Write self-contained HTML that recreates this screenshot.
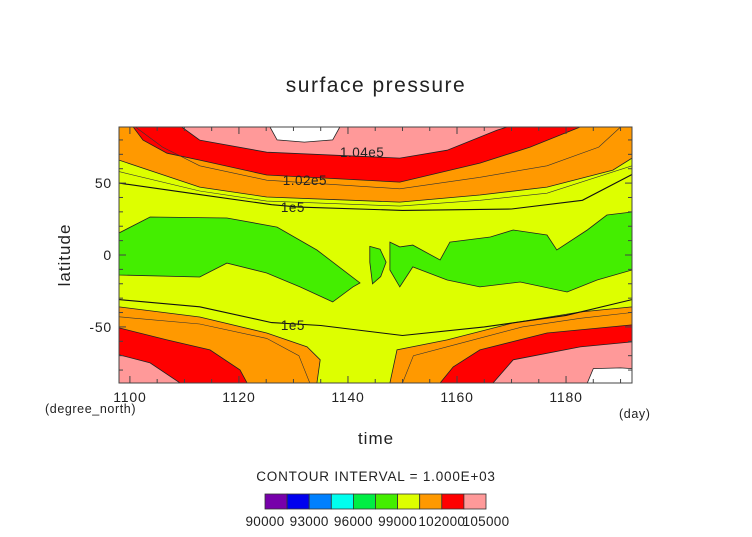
<!DOCTYPE html>
<html><head><meta charset="utf-8"><style>
body{margin:0;background:#fff;}
svg text{font-family:"Liberation Sans",sans-serif;fill:#222;}
</style></head><body>
<svg id="chart" width="752" height="532" xmlns="http://www.w3.org/2000/svg">
<defs><clipPath id="pc"><rect x="119" y="127" width="513" height="256"/></clipPath></defs>
<text x="376" y="92" font-size="21" text-anchor="middle" letter-spacing="1.5" font-weight="300">surface pressure</text>
<g id="plot" clip-path="url(#pc)"></g>
<rect x="119" y="127" width="513" height="256" fill="none" stroke="#444" stroke-width="1"/>
<g id="axes"></g>
<text x="0" y="0" font-size="17" text-anchor="middle" letter-spacing="1" transform="translate(70,255) rotate(-90)">latitude</text>
<text x="376" y="444" font-size="17" text-anchor="middle" letter-spacing="1">time</text>
<text x="45" y="413" font-size="12.5" letter-spacing="0.6">(degree_north)</text>
<text x="619" y="418" font-size="12.5" letter-spacing="0.6">(day)</text>
<text x="376" y="481" font-size="13.5" text-anchor="middle" letter-spacing="0.8">CONTOUR INTERVAL = 1.000E+03</text>
<g id="cbar"></g>
</svg>
<script>
const xTicks=[1100,1120,1140,1160,1180];
const yTicks=[50,0,-50];
const cbColors=["#7700aa","#0000ee","#0080ff","#00ffee","#00ee44","#44ee00","#ddff00","#ff9900","#ff0000","#ff9999"];
const cbLabels=["90000","93000","96000","99000","102000","105000"];
const T0=1098,T1=1192.1,LAT0=-89,LAT1=89;
const nOrange=[[1098,66],[1112.8,47.2],[1125.1,40.3],[1149.5,36.8],[1164.2,41.7],[1176.5,47.2],[1188.6,59],[1192.1,67.4]];
const nRed=[[1100.6,89],[1102.4,79.9],[1106.8,70.8],[1112.8,66],[1125.1,55.6],[1149.5,50.7],[1164.2,63.9],[1173.4,75],[1182.6,89]];
const nPink=[[1109.5,89],[1112.8,79.9],[1125.1,71.5],[1149.5,67.4],[1158.2,72.9],[1167.3,86.8],[1169.2,89]];
const nWhite=[[1125.7,89],[1127,80],[1132,78.5],[1137.2,80],[1138.5,89]];
const green1=[[1098,15.3],[1103.7,26.4],[1117.8,25.7],[1127,19.4],[1134.3,3.5],[1142.2,-19.4],[1140.9,-22.2],[1137.2,-32.6],[1131.2,-22.2],[1125.1,-12.5],[1117.8,-5.6],[1112.8,-15.3],[1098,-13.9]];
const green2=[[1144,6],[1145.9,4],[1147,-5],[1146,-15],[1144.5,-20],[1144,-5]];
const green3=[[1147.7,9],[1149.5,5.6],[1151.9,6.9],[1156.9,-3.5],[1158.7,9],[1166.1,12.5],[1170.3,17.4],[1176.5,13.9],[1178.3,3.5],[1183.9,17.4],[1187.5,27.8],[1192.1,29.9],[1192.1,-10.4],[1185.7,-17.4],[1180.2,-25.7],[1171.6,-18.8],[1164.2,-22.2],[1158.2,-17.4],[1151.9,-8.3],[1149.5,-22.2],[1147.7,-10.4]];
const sOrangeA=[[1098,-36.1],[1112.8,-43.1],[1125.1,-54.2],[1132.5,-63.9],[1134.9,-72.9],[1134.3,-89],[1098,-89]];
const sOrangeB=[[1147.7,-89],[1149,-66],[1158.2,-59],[1170.3,-47.2],[1182.6,-39.6],[1192.1,-36.1],[1192.1,-89]];
const sRedA=[[1098,-50.7],[1106.8,-59],[1114.7,-66],[1120.2,-79.9],[1121.5,-89],[1098,-89]];
const sRedB=[[1156.9,-89],[1159.3,-77.8],[1164.2,-66],[1176.5,-54.2],[1192.1,-48.6],[1192.1,-89]];
const sPinkA=[[1098,-69.4],[1103.7,-75],[1109.2,-89],[1098,-89]];
const sPinkB=[[1166.6,-89],[1170.3,-72.9],[1182.6,-63.9],[1192.1,-60.4],[1192.1,-89]];
const sWhite=[[1183.9,-89],[1185,-79],[1190,-78.5],[1192.1,-79],[1192.1,-89]];
const line1e5N=[[1098,50],[1112.8,42],[1126,35],[1131,33.3],[1150,31],[1170,32],[1183,38],[1192.1,56]];
const line1e5S=[[1098,-31],[1112.8,-36],[1126,-47],[1135,-49],[1150,-56],[1165,-50],[1180,-42],[1192.1,-31]];
const thinN1=[[1098,58],[1112.8,44.5],[1125.1,37.5],[1149.5,34],[1164.2,38],[1176.5,43],[1192.1,62]];
const thinN2=[[1101,89],[1106,75],[1112.8,62],[1125.1,52],[1149.5,46],[1164.2,54],[1176.5,62],[1186,75],[1190,89]];
const thinS1=[[1098,-43],[1112.8,-48],[1125.1,-58],[1131,-70],[1133,-89]];
const thinS2=[[1150,-89],[1152,-70],[1160,-62],[1172,-50],[1182.6,-44],[1192.1,-40]];
const NS="http://www.w3.org/2000/svg";
function sx(t){return 119+(t-T0)/(T1-T0)*513;}
function sy(l){return 127+(LAT1-l)/(LAT1-LAT0)*256;}
const plot=document.getElementById('plot');
function mk(tag,attrs,parent){const e=document.createElementNS(NS,tag);for(const k in attrs)e.setAttribute(k,attrs[k]);parent.appendChild(e);return e;}
function pts(a){return a.map(p=>sx(p[0]).toFixed(1)+','+sy(p[1]).toFixed(1)).join(' ');}
let bg=mk('rect',{x:119,y:127,width:513,height:256,fill:'#ddff00'},plot);


function northPoly(a,color,name){
  const full=a.concat([[T1,LAT1+5],[T0,LAT1+5]]);
  const p=mk('polygon',{points:pts(full),fill:color,stroke:'#222','stroke-width':0.8},plot);
  
  
}
function poly(a,color,name){
  const p=mk('polygon',{points:pts(a),fill:color,stroke:'#222','stroke-width':0.8},plot);
  
  
}
poly(green1,'#44ee00','green-region-1');
poly(green2,'#44ee00','green-region-2');
poly(green3,'#44ee00','green-region-3');
northPoly(nOrange,'#ff9900','north-orange-band');
northPoly(nRed,'#ff0000','north-red-band');
northPoly(nPink,'#ff9999','north-pink-band');
northPoly(nWhite,'#ffffff','north-white-band');
poly(sOrangeA,'#ff9900','south-orange-band-a');
poly(sOrangeB,'#ff9900','south-orange-band-b');
poly(sRedA,'#ff0000','south-red-band-a');
poly(sRedB,'#ff0000','south-red-band-b');
poly(sPinkA,'#ff9999','south-pink-band-a');
poly(sPinkB,'#ff9999','south-pink-band-b');
poly(sWhite,'#ffffff','south-white-band');
[thinN1,thinN2,thinS1,thinS2].forEach(a=>{
  const l=mk('polyline',{points:pts(a),fill:'none',stroke:'#333','stroke-width':0.6},plot);
  
  
});
let l1=mk('polyline',{points:pts(line1e5N),fill:'none',stroke:'#111','stroke-width':1.1},plot);


let l2=mk('polyline',{points:pts(line1e5S),fill:'none',stroke:'#111','stroke-width':1.1},plot);


const clabels=[["1.04e5",1142.6,71.5],["1.02e5",1132.1,52],["1e5",1129.9,33.3],["1e5",1129.9,-48.6]];
clabels.forEach(c=>{
  const t=mk('text',{x:sx(c[1]),y:sy(c[2])+5,'font-size':13.5,'text-anchor':'middle','letter-spacing':0.5},plot);
  t.textContent=c[0];
  
  
});
const axes=document.getElementById('axes');
for(let t=1100;t<=1190;t+=5){
  const major=t%20===0, len=major?7:4;
  mk('line',{x1:sx(t),x2:sx(t),y1:383,y2:383-len,stroke:'#444'},axes);
  mk('line',{x1:sx(t),x2:sx(t),y1:127,y2:127+len,stroke:'#444'},axes);
}
for(let l=-80;l<=80;l+=10){
  const major=l%50===0, len=major?7:4;
  mk('line',{x1:119,x2:119+len,y1:sy(l),y2:sy(l),stroke:'#444'},axes);
  mk('line',{x1:632,x2:632-len,y1:sy(l),y2:sy(l),stroke:'#444'},axes);
}
xTicks.forEach(t=>{
  const e=mk('text',{x:sx(t),y:402,'font-size':14,'text-anchor':'middle','letter-spacing':0.8},axes);
  e.textContent=t;
  
  
});
yTicks.forEach(l=>{
  const e=mk('text',{x:112,y:sy(l)+5,'font-size':14,'text-anchor':'end','letter-spacing':0.8},axes);
  e.textContent=String(l);
  
  
});
const cb=document.getElementById('cbar');
const cbx=265,cbw=22.1;
cbColors.forEach((c,i)=>{
  const r=mk('rect',{x:cbx+i*cbw,y:494,width:cbw,height:15,fill:c,stroke:'#333','stroke-width':0.8},cb);
  
  
});
cbLabels.forEach((s,i)=>{
  const e=mk('text',{x:cbx+i*2*cbw,y:526,'font-size':13.5,'text-anchor':'middle','letter-spacing':0.3},cb);
  e.textContent=s;
  
  
});
</script>
</body></html>
